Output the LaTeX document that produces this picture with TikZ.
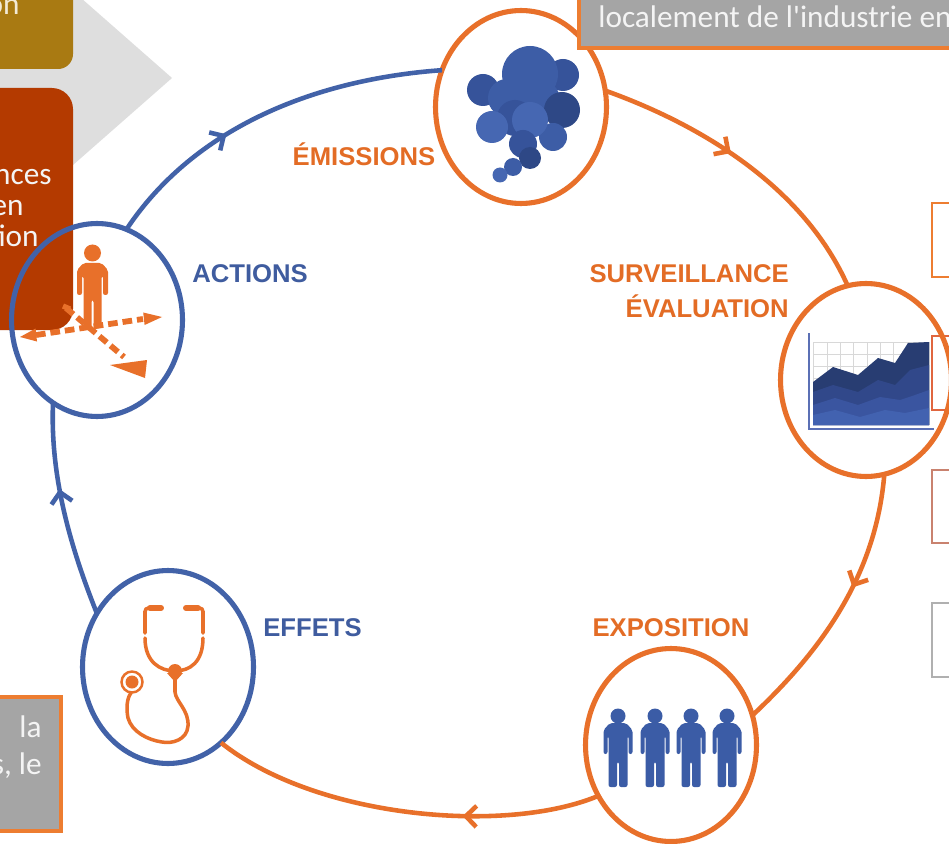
\documentclass[tikz,border=0pt]{standalone}
\usepackage{fontspec}
\setmainfont{Liberation Sans}
\newfontfamily\labf{Liberation Sans}
\newfontfamily\calf{Carlito}
\usetikzlibrary{shapes.geometric,arrows.meta,decorations.markings}
\definecolor{orng}{HTML}{E8702A}
\definecolor{blu}{HTML}{4262A8}
\definecolor{lblue}{HTML}{3F5C9F}
\definecolor{lorng}{HTML}{E36C25}
\definecolor{gold}{HTML}{A97A12}
\definecolor{rust}{HTML}{B43A00}
\definecolor{chev}{HTML}{DEDEDE}
\definecolor{boxgrey}{HTML}{A5A5A5}
\definecolor{boxline}{HTML}{ED7D31}
\definecolor{boxtext}{HTML}{F4F4F4}
\definecolor{cream}{HTML}{F3EAD6}
\definecolor{cla}{HTML}{3D5DA6}
\definecolor{clb}{HTML}{2E4886}
\definecolor{clc}{HTML}{4667B2}
\definecolor{cld}{HTML}{36539A}
\definecolor{cha}{HTML}{283D72}
\definecolor{chb}{HTML}{31488A}
\definecolor{chc}{HTML}{3A55A0}
\definecolor{chd}{HTML}{4262B0}
\definecolor{axisc}{HTML}{5B70B5}
\definecolor{gridc}{HTML}{D8D8D8}
\definecolor{pblue}{HTML}{3B5CA6}
\definecolor{rba}{HTML}{ED7D31}
\definecolor{rbb}{HTML}{E0663F}
\definecolor{rbc}{HTML}{C9826F}
\definecolor{rbd}{HTML}{B0B0B0}
\begin{document}
\begin{tikzpicture}[x=0.02cm,y=-0.02cm,
  cyc/.style={ellipse, minimum width=3.42cm, minimum height=3.86cm, inner sep=0pt, outer sep=0pt, line width=2.9pt},
  lbl/.style={font=\labf\bfseries\fontsize{14.6}{17}\selectfont, inner sep=0pt},
  conn/.style={line width=2.6pt},
  midarrow/.style={postaction={decorate}, decoration={markings, mark=at position #1 with {\arrow{Straight Barb[length=6pt,width=12pt]}}}},
  boxtxt/.style={font=\calf\fontsize{17.8}{21}\selectfont, text=boxtext, inner sep=0pt},
  dashline/.style={orng, line width=3.3pt, dash pattern=on 5.5pt off 2.8pt},
]
\useasboundingbox (0,0) rectangle (949,844);
\clip (0,0) rectangle (949,844);
\fill[white] (0,0) rectangle (949,844);

% grey chevron
\fill[chev] (-5,-9) -- (73,-9) -- (172,78) -- (73,165) -- (-5,165) -- cycle;
% gold box
\fill[gold, rounded corners=8.5pt] (-40,-40) rectangle (73,69);
\node[boxtxt, text=cream, anchor=base east] (tgold) at (20,15) {on};
% rust box
\fill[rust, rounded corners=12pt] (-40,88) rectangle (73,330);
\node[boxtxt, anchor=base east] (trA) at (52,185) {nces};
\node[boxtxt, anchor=base east] (trB) at (24,216) {en};
\node[boxtxt, anchor=base east] (trC) at (39,247) {tion};

% bottom-left grey box
\filldraw[fill=boxgrey, draw=boxline, line width=2.4pt] (-10,697) rectangle (61,831);
\node[boxtxt, anchor=base east] (tbA) at (42,737) {la};
\node[boxtxt, anchor=base east] (tbB) at (42,774) {s, le};

% right empty boxes
\draw[rba, line width=0.8pt] (932,203) rectangle (965,277);
\draw[rbb, line width=0.8pt] (932,336) rectangle (965,410);
\draw[rbc, line width=0.8pt] (932,470) rectangle (965,543);
\draw[rbd, line width=0.8pt] (932,603) rectangle (965,677);

% cycle nodes
\node[cyc, draw=blu] (act) at (97,320) {};
\node[cyc, draw=orng] (emi) at (521,107) {};
\node[cyc, draw=orng] (sur) at (866,380) {};
\node[cyc, draw=orng] (exp) at (671,745) {};
\node[cyc, draw=blu] (eff) at (168,667) {};

% connectors
\draw[conn, blu, midarrow=0.38] (act.72) .. controls (196,125) and (319,79) .. (emi.155);
\draw[conn, orng, midarrow=0.44] (emi.11) .. controls (707,127) and (805,190) .. (sur.101);
\draw[conn, orng, midarrow=0.42] (sur.-79) .. controls (876,575) and (822,650) .. (exp.20);
\draw[conn, orng, midarrow=0.35] (exp.215) .. controls (505,835) and (315,818) .. (eff.305);
\draw[conn, blu, midarrow=0.6] (eff.143) .. controls (70,546) and (50,476) .. (act.242);

% emissions cloud
\fill[cld] (483,90) circle[radius=16];
\fill[cld] (563,75) circle[radius=16];
\fill[cla] (530,74) circle[radius=28];
\fill[cla] (507,98) circle[radius=19];
\fill[cla] (540,100) circle[radius=20];
\fill[clb] (562,110) circle[radius=18];
\fill[cld] (515,118) circle[radius=18];
\fill[clc] (492,127) circle[radius=16];
\fill[cla] (553,137) circle[radius=14];
\fill[clc] (530,120) circle[radius=18];
\fill[cld] (523,144) circle[radius=14];
\fill[clb] (530,158) circle[radius=11];
\fill[cla] (513,167) circle[radius=9];
\fill[clc] (500,175) circle[radius=7.5];

% surveillance chart
\foreach \gx in {813,827,840,853,867,880,893,907,920,929} \draw[gridc, line width=0.4pt] (\gx,342) -- (\gx,425);
\foreach \gy in {342,354,366,378} \draw[gridc, line width=0.4pt] (813,\gy) -- (929,\gy);
\fill[cha] (813,382) -- (833,367) -- (858,375) -- (878,358) -- (895,363) -- (908,343) -- (929,342) -- (929,425) -- (813,425) -- cycle;
\fill[chb] (813,392) -- (833,385) -- (858,392) -- (878,380) -- (895,385) -- (910,370) -- (929,365) -- (929,425) -- (813,425) -- cycle;
\fill[chc] (813,405) -- (835,398) -- (858,405) -- (880,397) -- (900,400) -- (915,395) -- (929,390) -- (929,425) -- (813,425) -- cycle;
\fill[chd] (813,415) -- (835,410) -- (860,417) -- (885,410) -- (905,413) -- (929,408) -- (929,425) -- (813,425) -- cycle;
\draw[axisc, line width=1.3pt] (809,333) -- (809,429) -- (934,429);

% exposition people
\foreach \c in {618,655,691,727} {
  \fill[pblue] (\c,716) circle[radius=7.5];
  \fill[pblue, rounded corners=1.2pt] ({\c-14.5},754) -- ({\c-14.5},730) -- ({\c-8},723) -- ({\c+8},723) -- ({\c+14.5},730) -- ({\c+14.5},754) -- ({\c+10.5},754) -- ({\c+10.5},736) -- ({\c+9.5},736) -- ({\c+9.5},787) -- ({\c+1},787) -- ({\c+1},762) -- ({\c-1},762) -- ({\c-1},787) -- ({\c-9.5},787) -- ({\c-9.5},736) -- ({\c-10.5},736) -- ({\c-10.5},754) -- cycle;
}

% stethoscope
\begin{scope}[orng, line width=2pt, line cap=round]
\draw[rounded corners=2pt] (161,608) -- (145,608) -- (145,633);
\draw[rounded corners=2pt] (186,608) -- (203,608) -- (203,633);
\draw[line width=3.4pt] (150,608) -- (161,608);
\draw[line width=3.4pt] (186,608) -- (198,608);
\draw (145,638) .. controls (145,662) and (160,671) .. (175,671);
\draw (203,638) .. controls (203,662) and (190,671) .. (175,671);
\fill (175,671) circle[radius=7];
\fill (167,673) -- (183,673) -- (175,682) -- cycle;
\draw (175,678) -- (175,692) .. controls (176,702) and (189,710) .. (188,726) .. controls (187,740) and (172,744) .. (162,742) .. controls (148,740) and (132,732) .. (128,718) .. controls (126,708) and (127,698) .. (131,693);
\draw[line width=1.4pt] (132,682) circle[radius=10.5];
\fill (132,682) circle[radius=6.5];
\end{scope}

% actions icon
\draw[dashline] (36,335) -- (143,319);
\draw[dashline] (66,308) -- (124,357);
\draw[orng, line width=3pt] (63,306) -- (70,309);
\fill[orng] (20,337) -- (37,341.5) -- (35.6,328.5) -- cycle;
\fill[orng] (162,317) -- (144.6,325) -- (143.2,312.5) -- cycle;
\fill[orng] (110,365) -- (147,360) -- (145,378) -- cycle;
\fill[orng] (92.5,253) circle[radius=8.5];
\fill[orng, rounded corners=1.2pt] (77,295) -- (77,270) -- (83.5,263) -- (101.5,263) -- (108,270) -- (108,295) -- (103,295) -- (103,276) -- (101.5,276) -- (101.5,328) -- (93.5,328) -- (93.5,300) -- (91.5,300) -- (91.5,328) -- (83.5,328) -- (83.5,276) -- (82,276) -- (82,295) -- cycle;

% labels
\node[lbl, text=lorng, anchor=base] (lemi) at (364,166) {ÉMISSIONS};
\node[lbl, text=lorng, anchor=base east] (lsur) at (789,282) {SURVEILLANCE};
\node[lbl, text=lorng, anchor=base east] (leva) at (789,317) {ÉVALUATION};
\node[lbl, text=lorng, anchor=base] (lexp) at (671,636) {EXPOSITION};
\node[lbl, text=lblue, anchor=base west] (leff) at (263,636) {EFFETS};
\node[lbl, text=lblue, anchor=base west] (lact) at (192,282) {ACTIONS};

% top grey box
\filldraw[fill=boxgrey, draw=boxline, line width=2.4pt] (579,-10) rectangle (965,48);
\node[boxtxt, anchor=base west] (ttop) at (598,28) {localement de l'industrie en};
\end{tikzpicture}
\end{document}
